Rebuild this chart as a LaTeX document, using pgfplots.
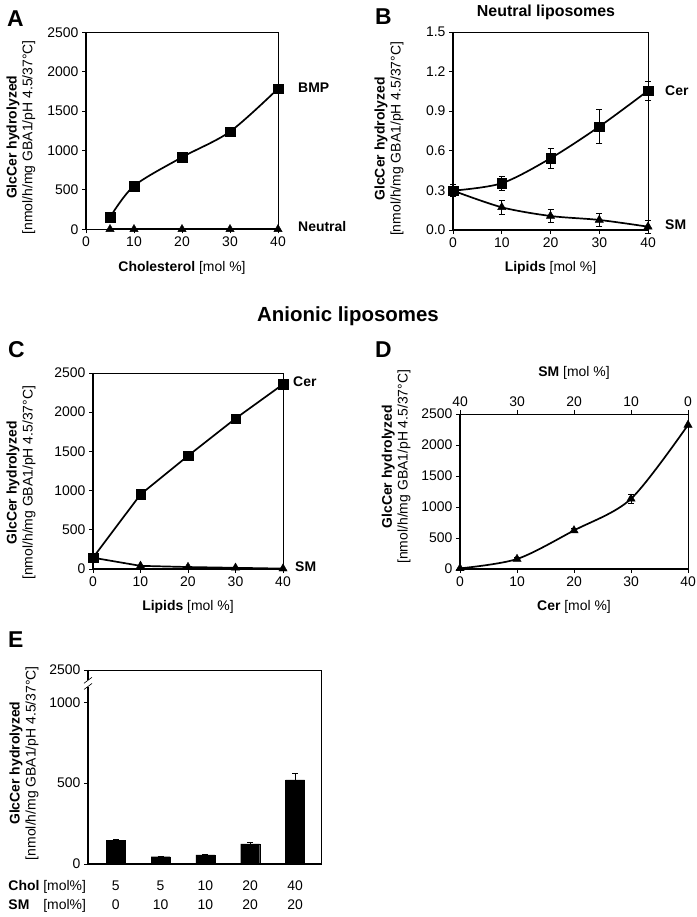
\documentclass[border=0pt]{standalone}
\usepackage{fontspec}
\setmainfont{Liberation Sans}
\usepackage{pgfplots}
\pgfplotsset{compat=1.18}
\newcommand\fs{\fontsize{14}{16}\selectfont}
\newcommand\fl{\fontsize{14}{16}\selectfont}
\newcommand\axlines{\draw[line width=1.1bp, black] (rel axis cs:0,1) -- (rel axis cs:0,0) -- (rel axis cs:1,0);}
\pgfplotsset{
  panel/.style={
    scale only axis, anchor=south west, clip=false,
    axis line style={line width=0.6bp, black},
    tick align=outside, tick pos=left,
    major tick length=4bp,
    every tick/.style={line width=0.8bp, black},
    tick label style={font=\fs},
    /pgf/number format/assume math mode=true,
    /pgf/number format/1000 sep={},
    scaled ticks=false,
    xlabel style={font=\fl, at={(axis description cs:0.5,0)}, anchor=base, yshift=-42bp},
    ylabel style={font=\fl, align=center, anchor=center},
    ylabel={\textbf{GlcCer hydrolyzed}\\{[}nmol/h/mg GBA1/pH 4.5/37°C]},
    ymin=0,
  },
  line/.style={xtick={0,10,20,30,40}, xmin=0, xmax=40},
  sq/.style={black, line width=1.7bp, mark=square*, mark size=4.8bp, mark options={solid, fill=black, line width=0.4bp}},
  tri/.style={black, line width=1.7bp, mark=triangle*, mark size=4.8bp, mark options={solid, fill=black, line width=0.4bp}},
  eb/.style={error bars/.cd, y dir=both, y explicit, error bar style={line width=0.7bp, black}, error mark options={rotate=90, mark size=3bp, line width=0.7bp, black}},
}
\begin{document}
\begin{tikzpicture}[x=1bp,y=1bp]
\useasboundingbox (0,0) rectangle (697,917);
% ---------- Panel A ----------
\begin{axis}[panel, line, at={(86bp,687.7bp)}, width=192bp, height=197bp,
  ymax=2500, ytick={0,500,1000,1500,2000,2500},
  xlabel={\textbf{Cholesterol} [mol \%]},
  ylabel style={at={(axis description cs:-0.339,0.467)}}]
\axlines
\addplot[sq, smooth] table {
x y
5 152
10 550
20 914
30 1239
40 1784
};
\addplot[tri] table {
x y
5 0
10 0
20 0
30 0
40 0
};
\end{axis}
% ---------- Panel B ----------
\begin{axis}[panel, line, at={(453bp,687bp)}, width=195bp, height=198bp,
  ymax=1.5, ytick={0,0.3,0.6,0.9,1.2,1.5},
  yticklabel style={/pgf/number format/.cd, fixed, fixed zerofill, precision=1},
  xlabel={\textbf{Lipids} [mol \%]},
  ylabel style={at={(axis description cs:-0.328,0.46)}}]
\axlines
\addplot[sq, smooth, eb] table[x=x, y=y, y error=e] {
x y e
0 0.298 0.045
10 0.354 0.05
20 0.543 0.075
30 0.783 0.13
40 1.055 0.07
};
\addplot[tri, smooth, eb] table[x=x, y=y, y error=e] {
x y e
0 0.298 0.045
10 0.172 0.055
20 0.106 0.05
30 0.076 0.05
40 0.025 0.05
};
\end{axis}
% ---------- Panel C ----------
\begin{axis}[panel, line, at={(93bp,348bp)}, width=190bp, height=196bp,
  ymax=2500, ytick={0,500,1000,1500,2000,2500},
  xlabel={\textbf{Lipids} [mol \%]},
  ylabel style={at={(axis description cs:-0.379,0.44)}}]
\axlines
\addplot[sq, eb] table[x=x, y=y, y error=e] {
x y e
0 144 0
10 951 65
20 1443 0
30 1919 0
40 2356 0
};
\addplot[tri] table {
x y
0 144
10 40
20 25
30 15
40 5
};
\end{axis}
% ---------- Panel D ----------
\begin{axis}[panel, line, at={(460bp,348bp)}, width=228bp, height=155bp,
  ymax=2500, ytick={0,500,1000,1500,2000,2500},
  xlabel={\textbf{Cer} [mol \%]},
  ylabel style={at={(axis description cs:-0.28,0.66)}}]
\axlines
\addplot[tri, smooth, eb] table[x=x, y=y, y error=e] {
x y e
0 10 0
10 161 20
20 622 30
30 1132 70
40 2323 0
};
\end{axis}
\begin{axis}[scale only axis, anchor=south west, at={(460bp,348bp)}, width=228bp, height=155bp,
  xmin=0, xmax=40, ymin=0, ymax=1, x dir=reverse,
  axis x line*=top, axis y line=none,
  axis line style={line width=0.6bp, black},
  xtick={0,10,20,30,40},
  tick align=outside, major tick length=4bp,
  every tick/.style={line width=0.8bp, black},
  tick label style={font=\fs},
  /pgf/number format/assume math mode=true,
  xlabel={\textbf{SM} [mol \%]},
  xlabel style={font=\fl, at={(axis description cs:0.5,1)}, anchor=base, yshift=37bp}]
\end{axis}
% ---------- Panel E ----------
\begin{axis}[panel, at={(88bp,53bp)}, width=233bp, height=194bp,
  ybar, bar width=19bp,
  xmin=0.38, xmax=5.58, ymax=1200,
  ytick={0,500,1000,1200}, yticklabels={0,500,1000,2500},
  xtick={1,2,3,4,5},
  xticklabels={{5\\0},{5\\10},{10\\10},{20\\20},{40\\20}},
  xticklabel style={align=center, font=\fontsize{14}{19}\selectfont, yshift=-9bp},
  major x tick style=transparent,
  ylabel style={at={(axis description cs:-0.275,0.52)}}]
\axlines
\addplot[fill=black, draw=black, eb] table[x=x, y=y, y error=e] {
x y e
1 148 6
2 45 4
3 57 3
4 125 12
5 520 42
};
\draw[white, line width=3bp] (rel axis cs:0,0.912) -- (rel axis cs:0,0.950);
\draw[line width=0.6bp] ([xshift=-4bp,yshift=-3bp]rel axis cs:0,0.915) -- ([xshift=4bp,yshift=3bp]rel axis cs:0,0.915);
\draw[line width=0.6bp] ([xshift=-4bp,yshift=-3bp]rel axis cs:0,0.947) -- ([xshift=4bp,yshift=3bp]rel axis cs:0,0.947);
\node[anchor=north east, align=left, font=\fontsize{14}{19}\selectfont, xshift=1.5bp, yshift=-13bp] at (rel axis cs:0,0)
  {\textbf{Chol} [mol\%]\\\makebox[2.5em][l]{\textbf{SM}}[mol\%]};
\end{axis}
% ---------- Annotations ----------
\node[anchor=base west, font=\fontsize{23}{26}\selectfont\bfseries, inner sep=0] at (7,890) {A};
\node[anchor=base west, font=\fontsize{23}{26}\selectfont\bfseries, inner sep=0] at (375,892) {B};
\node[anchor=base west, font=\fontsize{23}{26}\selectfont\bfseries, inner sep=0] at (8,559) {C};
\node[anchor=base west, font=\fontsize{23}{26}\selectfont\bfseries, inner sep=0] at (375,559) {D};
\node[anchor=base west, font=\fontsize{23}{26}\selectfont\bfseries, inner sep=0] at (8,269) {E};
\node[anchor=base, font=\fontsize{16}{18}\selectfont\bfseries, inner sep=0] at (546,900) {Neutral liposomes};
\node[anchor=base, font=\fontsize{20.5}{23}\selectfont\bfseries, inner sep=0] at (348,595) {Anionic liposomes};
\node[anchor=base west, font=\fl\bfseries, inner sep=0] at (298,824) {BMP};
\node[anchor=base west, font=\fl\bfseries, inner sep=0] at (298,685) {Neutral};
\node[anchor=base west, font=\fl\bfseries, inner sep=0] at (665,821) {Cer};
\node[anchor=base west, font=\fl\bfseries, inner sep=0] at (665,687) {SM};
\node[anchor=base west, font=\fl\bfseries, inner sep=0] at (293,530) {Cer};
\node[anchor=base west, font=\fl\bfseries, inner sep=0] at (295,345) {SM};
\end{tikzpicture}
\end{document}
